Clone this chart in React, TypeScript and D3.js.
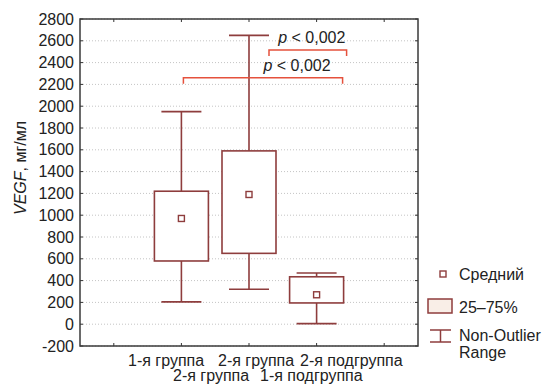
import React from 'react';
import * as d3 from 'd3';

// box plot data (VEGF, pg/ml)
const groups = ['1-я группа', '2-я группа, 1-я подгруппа', '2-я группа, 2-я подгруппа'];
const whiskerLow = [205, 320, 5];
const q25 = [580, 650, 195];
const means = [970, 1190, 270];
const q75 = [1220, 1590, 435];
const whiskerHigh = [1950, 2650, 470];

const yTicks = [-200, 0, 200, 400, 600, 800, 1000, 1200, 1400, 1600, 1800, 2000, 2200, 2400, 2600, 2800];

// category labels as they are staggered under the axis
const labelRow1 = ['1-я группа', '2-я группа', '2-я подгруппа'];
const labelRow2 = ['2-я группа', '1-я подгруппа'];

// significance brackets: [from group, to group, level]
const brackets = [
  { from: 0, to: 2, level: 2260, label: '< 0,002' },
  { from: 1, to: 2, level: 2515, label: '< 0,002' },
];

const legendItems = ['Средний', '25–75%', 'Non-Outlier', 'Range'];

const BOX = '#8e3d3d';
const RED = '#e5513c';
const FONT = '"Liberation Sans", Arial, sans-serif';

const App = () => {
  const left = 80;
  const right = 418;
  const top = 19;
  const bottom = 346;

  const slots = ['padL', ...groups, 'padR'];
  const x = d3.scaleBand().domain(slots).range([left, right]);
  const y = d3.scaleLinear().domain([-200, 2800]).range([bottom, top]);
  const cx = (i: number) => (x(groups[i]) as number) + x.bandwidth() / 2;

  const boxHalf = 27;
  const capHalf = 20;

  // hand-drawn bracket ends, relative to the box centres
  const bracketPad = [
    [2, 26],
    [20, 30],
  ];
  const labelShift = [34, 4];

  return (
    <svg
      width={542}
      height={384}
      style={{ position: 'absolute', left: 0, top: 0, background: '#fff' }}
      fontFamily={FONT}
    >
      {/* grid lines */}
      {yTicks.map((t) => (
        <line
          key={'g' + t}
          x1={left}
          x2={right}
          y1={y(t)}
          y2={y(t)}
          stroke="#c4c4c4"
          strokeDasharray="1,2"
        />
      ))}

      {/* y tick labels and inner ticks */}
      {yTicks.map((t) => (
        <g key={'t' + t}>
          <text x={74} y={y(t)} dy="0.35em" textAnchor="end" fontSize={16} fill="#222">
            {t}
          </text>
          <line x1={left} x2={left + 3} y1={y(t)} y2={y(t)} stroke="#333" />
          <line x1={right - 3} x2={right} y1={y(t)} y2={y(t)} stroke="#333" />
        </g>
      ))}

      {/* x ticks top and bottom */}
      {slots.map((s) => {
        const px = (x(s) as number) + x.bandwidth() / 2;
        return (
          <g key={'x' + s}>
            <line x1={px} x2={px} y1={top} y2={top + 3} stroke="#333" />
            <line x1={px} x2={px} y1={bottom - 3} y2={bottom} stroke="#333" />
          </g>
        );
      })}

      {/* frame */}
      <rect x={left} y={top} width={right - left} height={bottom - top} fill="none" stroke="#3a3a3a" strokeWidth={1.5} />

      {/* boxes */}
      {groups.map((g, i) => {
        const c = cx(i);
        return (
          <g key={g} stroke={BOX} strokeWidth={1.6} fill="none">
            <line x1={c} x2={c} y1={y(whiskerHigh[i])} y2={y(q75[i])} />
            <line x1={c} x2={c} y1={y(q25[i])} y2={y(whiskerLow[i])} />
            <line x1={c - capHalf} x2={c + capHalf} y1={y(whiskerHigh[i])} y2={y(whiskerHigh[i])} />
            <line x1={c - capHalf} x2={c + capHalf} y1={y(whiskerLow[i])} y2={y(whiskerLow[i])} />
            <rect x={c - boxHalf} y={y(q75[i])} width={boxHalf * 2} height={y(q25[i]) - y(q75[i])} fill="#fff" />
            <rect x={c - 3} y={y(means[i]) - 3} width={6} height={6} strokeWidth={1.4} />
          </g>
        );
      })}

      {/* significance brackets */}
      {brackets.map((b, i) => {
        const x1 = cx(b.from) + bracketPad[i][0];
        const x2 = cx(b.to) + bracketPad[i][1];
        const yy = y(b.level);
        return (
          <g key={'b' + i}>
            <path
              d={`M${x1},${yy + 6} L${x1},${yy} L${x2},${yy} L${x2},${yy + 6}`}
              fill="none"
              stroke={RED}
              strokeWidth={1.5}
            />
            <text
              x={(x1 + x2) / 2 + labelShift[i]}
              y={yy - 7}
              textAnchor="middle"
              fontSize={16}
              fill="#222"
            >
              <tspan fontStyle="italic">p</tspan> {b.label}
            </text>
          </g>
        );
      })}

      {/* y axis title */}
      <text
        transform="translate(26,168) rotate(-90)"
        textAnchor="middle"
        fontSize={16}
        fill="#222"
      >
        <tspan fontStyle="italic">VEGF</tspan>, мг/мл
      </text>

      {/* category labels */}
      <text y={366} fontSize={16} fill="#222">
        {labelRow1.map((l, i) => (
          <tspan key={l + i} x={[128, 218, 300][i]}>
            {l}
          </tspan>
        ))}
      </text>
      <text y={381} fontSize={16} fill="#222">
        {labelRow2.map((l, i) => (
          <tspan key={l + i} x={[173, 260][i]}>
            {l}
          </tspan>
        ))}
      </text>

      {/* legend */}
      <g stroke={BOX} strokeWidth={1.5} fill="none">
        <rect x={440} y={271} width={6} height={6} strokeWidth={1.4} />
        <rect x={428} y={299} width={24} height={14} fill="#f9eee7" />
        <line x1={430} x2={451} y1={330} y2={330} />
        <line x1={440.5} x2={440.5} y1={330} y2={342} />
        <line x1={430} x2={451} y1={342} y2={342} />
      </g>
      <g fontSize={16} fill="#222">
        <text x={459} y={280}>{legendItems[0]}</text>
        <text x={459} y={313}>{legendItems[1]}</text>
        <text x={459} y={341}>{legendItems[2]}</text>
        <text x={459} y={358}>{legendItems[3]}</text>
      </g>
    </svg>
  );
};

export default App;
